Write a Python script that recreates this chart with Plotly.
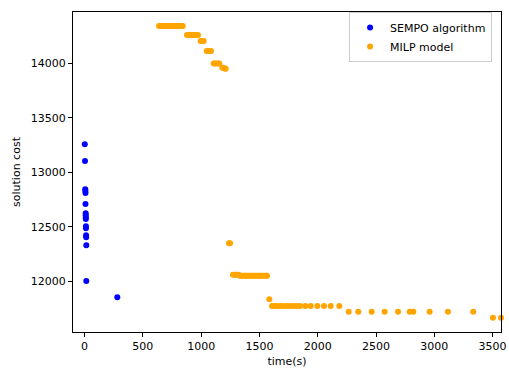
import plotly.graph_objects as go

# SEMPO algorithm runs: time (s) and solution cost
sempo_time = [2, 4, 6, 7, 8, 8, 10, 10, 11, 11, 12, 12, 13, 14, 15, 15, 281]
sempo_cost = [13258, 13104, 12845, 12830, 12811, 12710, 12625, 12607, 12588,
              12573, 12506, 12488, 12423, 12405, 12332, 12005, 11855]

# MILP model incumbent solutions: time (s) and solution cost
milp_time = [
    639, 650, 661, 672, 683, 694, 705, 716, 727, 738,
    749, 760, 771, 782, 793, 804, 815, 826, 837, 842,
    879, 891, 903, 915, 927, 939, 951, 963, 973,
    996, 1009, 1022,
    1048, 1060, 1073, 1085,
    1108, 1120, 1132, 1144, 1156,
    1182, 1192, 1202, 1211,
    1239, 1248,
    1273, 1285, 1297, 1309, 1320,
    1332, 1344, 1356, 1368, 1380, 1392, 1404, 1416, 1428, 1440, 1452,
    1464, 1476, 1488, 1500, 1512, 1524, 1536, 1548, 1560, 1565,
    1585,
    1608, 1630, 1655, 1680, 1705, 1735, 1762, 1791, 1820, 1848, 1894,
    1940, 1997, 2054, 2111, 2185,
    2266, 2348, 2463, 2574, 2689, 2789, 2820, 2960, 3117, 3334,
    3503, 3572,
]
milp_cost = [
    14342, 14342, 14342, 14342, 14342, 14342, 14342, 14342, 14342, 14342,
    14342, 14342, 14342, 14342, 14342, 14342, 14342, 14342, 14342, 14342,
    14259, 14259, 14259, 14259, 14259, 14259, 14259, 14259, 14259,
    14204, 14204, 14204,
    14113, 14113, 14113, 14113,
    13997, 13997, 13997, 13997, 13997,
    13960, 13958, 13952, 13950,
    12350, 12350,
    12062, 12062, 12062, 12062, 12062,
    12053, 12053, 12053, 12053, 12053, 12053, 12053, 12053, 12053, 12053, 12053,
    12053, 12053, 12053, 12053, 12053, 12053, 12053, 12053, 12053, 12053,
    11837,
    11775, 11775, 11775, 11775, 11775, 11775, 11775, 11775, 11775, 11775, 11775,
    11775, 11775, 11775, 11775, 11775,
    11723, 11723, 11723, 11723, 11723, 11723, 11723, 11723, 11723, 11723,
    11668, 11668,
]

x_ticks = [0, 500, 1000, 1500, 2000, 2500, 3000, 3500]
y_ticks = [12000, 12500, 13000, 13500, 14000]

font = dict(family="DejaVu Sans", size=11, color="black")

fig = go.Figure()
fig.add_trace(go.Scatter(
    x=sempo_time, y=sempo_cost, mode="markers", name="SEMPO algorithm",
    marker=dict(color="blue", size=6, line=dict(width=0)),
    cliponaxis=False,
))
fig.add_trace(go.Scatter(
    x=milp_time, y=milp_cost, mode="markers", name="MILP model",
    marker=dict(color="orange", size=6, line=dict(width=0)),
    cliponaxis=False,
))

axis_style = dict(
    showline=True, linecolor="black", linewidth=1, mirror=True,
    ticks="outside", ticklen=4, tickcolor="black", tickwidth=1,
    showgrid=False, zeroline=False, tickfont=font,
    tickformat="d", automargin=False,
)
fig.update_xaxes(
    range=[-99, 3572], tickvals=x_ticks,
    title=dict(text="time(s)", font=font, standoff=5),
    **axis_style,
)
fig.update_yaxes(
    range=[11537, 14470], tickvals=y_ticks,
    title=dict(text="solution cost", font=font, standoff=7),
    **axis_style,
)
fig.update_layout(
    width=509, height=371,
    margin=dict(l=73, r=8, t=12, b=39),
    plot_bgcolor="white", paper_bgcolor="white",
    font=font,
    showlegend=True,
    legend=dict(
        x=0.645, y=1.0, xanchor="left", yanchor="top",
        bgcolor="rgba(255,255,255,0.8)", bordercolor="#cccccc", borderwidth=1,
        font=font, itemwidth=30, tracegroupgap=0,
    ),
)
fig.write_html("out.html", config={"displayModeBar": False},
               post_script="document.body.style.margin='0';")
